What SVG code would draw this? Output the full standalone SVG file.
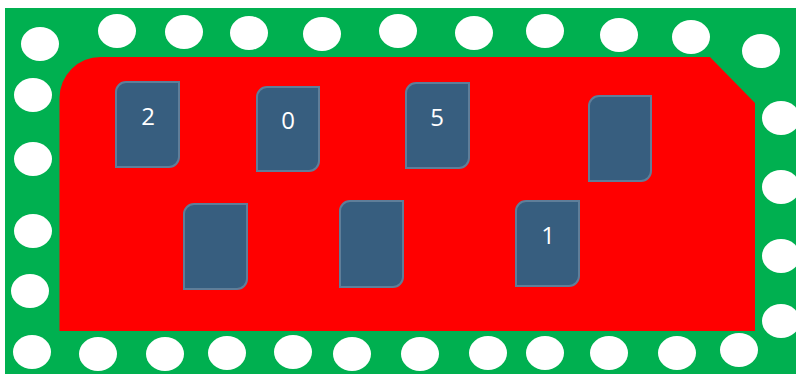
<svg xmlns="http://www.w3.org/2000/svg" width="796" height="374" viewBox="0 0 796 374">
<style>
.hole{fill:#ffffff}
.pad{fill:#375E7F;stroke:#5F7E99;stroke-width:2}
.lbl{font-family:"Open Sans","Liberation Sans",sans-serif;font-size:24px;fill:#ffffff;text-anchor:middle}
</style>
<rect x="0" y="0" width="796" height="374" fill="#ffffff"/>
<rect id="board" x="5" y="8" width="791" height="366" fill="#00B050"/>
<path id="area" d="M59.5,98 A41,41 0 0 1 100.5,57 H710 L755,103 V331 H59.5 Z" fill="#FF0000"/>
<g id="holes">
<ellipse class="hole" cx="40" cy="44" rx="19" ry="17"/>
<ellipse class="hole" cx="117" cy="31" rx="19" ry="17"/>
<ellipse class="hole" cx="184" cy="32" rx="19" ry="17"/>
<ellipse class="hole" cx="249" cy="33" rx="19" ry="17"/>
<ellipse class="hole" cx="322" cy="34" rx="19" ry="17"/>
<ellipse class="hole" cx="398" cy="31" rx="19" ry="17"/>
<ellipse class="hole" cx="474" cy="33" rx="19" ry="17"/>
<ellipse class="hole" cx="545" cy="31" rx="19" ry="17"/>
<ellipse class="hole" cx="619" cy="35" rx="19" ry="17"/>
<ellipse class="hole" cx="691" cy="37" rx="19" ry="17"/>
<ellipse class="hole" cx="761" cy="51" rx="19" ry="17"/>
<ellipse class="hole" cx="781" cy="118" rx="19" ry="17"/>
<ellipse class="hole" cx="781" cy="187" rx="19" ry="17"/>
<ellipse class="hole" cx="781" cy="256" rx="19" ry="17"/>
<ellipse class="hole" cx="781" cy="321" rx="19" ry="17"/>
<ellipse class="hole" cx="33" cy="95" rx="19" ry="17"/>
<ellipse class="hole" cx="33" cy="159" rx="19" ry="17"/>
<ellipse class="hole" cx="33" cy="231" rx="19" ry="17"/>
<ellipse class="hole" cx="30" cy="291" rx="19" ry="17"/>
<ellipse class="hole" cx="32" cy="352" rx="19" ry="17"/>
<ellipse class="hole" cx="98" cy="354" rx="19" ry="17"/>
<ellipse class="hole" cx="165" cy="354" rx="19" ry="17"/>
<ellipse class="hole" cx="227" cy="353" rx="19" ry="17"/>
<ellipse class="hole" cx="293" cy="352" rx="19" ry="17"/>
<ellipse class="hole" cx="352" cy="354" rx="19" ry="17"/>
<ellipse class="hole" cx="420" cy="354" rx="19" ry="17"/>
<ellipse class="hole" cx="488" cy="353" rx="19" ry="17"/>
<ellipse class="hole" cx="545" cy="353" rx="19" ry="17"/>
<ellipse class="hole" cx="609" cy="353" rx="19" ry="17"/>
<ellipse class="hole" cx="677" cy="353" rx="19" ry="17"/>
<ellipse class="hole" cx="739" cy="350" rx="19" ry="17"/>
</g>
<g id="pad-2">
<path class="pad" d="M126,82 H179 V157 A10,10 0 0 1 169,167 H116 V92 A10,10 0 0 1 126,82 Z"/>
<text class="lbl" x="148" y="125">2</text>
</g>
<g id="pad-0">
<path class="pad" d="M267,87 H319 V161 A10,10 0 0 1 309,171 H257 V97 A10,10 0 0 1 267,87 Z"/>
<text class="lbl" x="288" y="129">0</text>
</g>
<g id="pad-5">
<path class="pad" d="M416,83 H469 V158 A10,10 0 0 1 459,168 H406 V93 A10,10 0 0 1 416,83 Z"/>
<text class="lbl" x="437" y="126">5</text>
</g>
<g id="pad-tr">
<path class="pad" d="M599,96 H651 V171 A10,10 0 0 1 641,181 H589 V106 A10,10 0 0 1 599,96 Z"/>
</g>
<g id="pad-bl">
<path class="pad" d="M194,204 H247 V279 A10,10 0 0 1 237,289 H184 V214 A10,10 0 0 1 194,204 Z"/>
</g>
<g id="pad-bm">
<path class="pad" d="M350,201 H403 V277 A10,10 0 0 1 393,287 H340 V211 A10,10 0 0 1 350,201 Z"/>
</g>
<g id="pad-1">
<path class="pad" d="M526,201 H579 V276 A10,10 0 0 1 569,286 H516 V211 A10,10 0 0 1 526,201 Z"/>
<text class="lbl" x="548" y="244">1</text>
</g>
<g id="connectors"/>
</svg>
